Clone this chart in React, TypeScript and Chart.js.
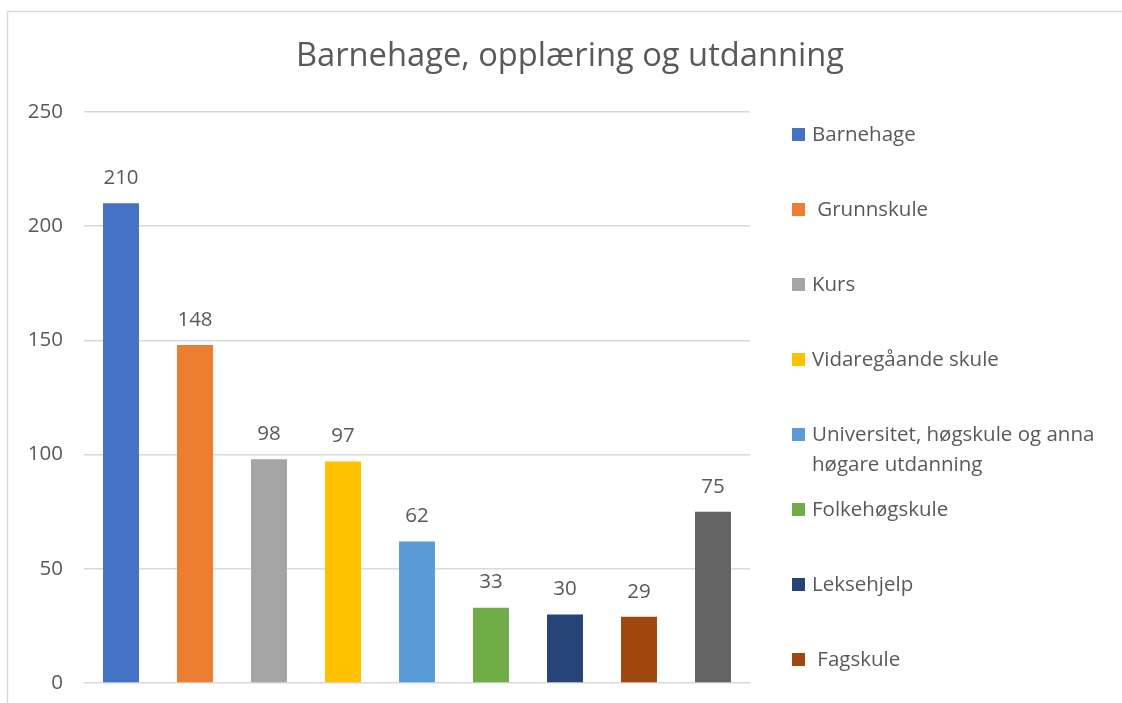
import React, { useEffect, useRef } from "react";
import { Chart, registerables } from "chart.js";

Chart.register(...registerables);

const title = "Barnehage, opplæring og utdanning";
const categories = [
  "Barnehage",
  " Grunnskule",
  "Kurs",
  "Vidaregåande skule",
  "Universitet, høgskule og anna\nhøgare utdanning",
  "Folkehøgskule",
  "Leksehjelp",
  " Fagskule",
  "Anna",
];
const values = [210, 148, 98, 97, 62, 33, 30, 29, 75];
const colors = [
  "#4472C4",
  "#ED7D31",
  "#A5A5A5",
  "#FFC000",
  "#5B9BD5",
  "#70AD47",
  "#264478",
  "#9E480E",
  "#636363",
];
const yTicks = [0, 50, 100, 150, 200, 250];

const FONT = "'Open Sans', sans-serif";
const TEXT = "#595959";

const framePlugin = {
  id: "frame",
  beforeDraw(chart: any) {
    const ctx = chart.ctx;
    ctx.save();
    ctx.fillStyle = "#ffffff";
    ctx.fillRect(0, 0, chart.width, chart.height);
    ctx.strokeStyle = "#D9D9D9";
    ctx.lineWidth = 1.5;
    ctx.beginPath();
    ctx.moveTo(7.5, chart.height);
    ctx.lineTo(7.5, 11.5);
    ctx.lineTo(chart.width, 11.5);
    ctx.stroke();
    ctx.restore();
  },
};

const decorPlugin = {
  id: "decor",
  afterDraw(chart: any) {
    const ctx = chart.ctx;
    const area = chart.chartArea;
    ctx.save();
    // title
    ctx.fillStyle = TEXT;
    ctx.font = `32.7px ${FONT}`;
    ctx.textAlign = "center";
    ctx.textBaseline = "middle";
    ctx.fillText(title, 570, 57);

    // data labels
    ctx.font = `20.5px ${FONT}`;
    const meta = chart.getDatasetMeta(0);
    meta.data.forEach((bar: any, i: number) => {
      ctx.fillText(String(values[i]), bar.x, bar.y - 25);
    });

    // legend
    ctx.textAlign = "left";
    const lx = area.right + 42;
    categories.forEach((label, i) => {
      const y = 135 + i * 75;
      ctx.fillStyle = colors[i];
      ctx.fillRect(lx, y - 7, 13, 13);
      ctx.fillStyle = TEXT;
      label.split("\n").forEach((line, j) => {
        ctx.fillText(line, lx + 20, y + j * 30);
      });
    });
    ctx.restore();
  },
};

export default function App() {
  const ref = useRef<HTMLCanvasElement>(null);
  useEffect(() => {
    if (!ref.current) return;
    const chart = new Chart(ref.current, {
      type: "bar",
      data: {
        labels: categories,
        datasets: [
          {
            data: values,
            backgroundColor: colors,
            borderWidth: 0,
            categoryPercentage: 1,
            barPercentage: 0.486,
          },
        ],
      },
      options: {
        animation: false,
        responsive: false,
        layout: { padding: { top: 112, bottom: 20, right: 372, left: 0 } },
        plugins: {
          legend: { display: false },
          title: { display: false },
          tooltip: { enabled: false },
        },
        scales: {
          x: { display: false },
          y: {
            min: 0,
            max: 250,
            afterFit: (s: any) => {
              s.width = 84;
            },
            afterBuildTicks: (s: any) => {
              s.ticks = yTicks.map((v) => ({ value: v }));
            },
            border: { display: false },
            grid: {
              color: "#D9D9D9",
              lineWidth: 1.5,
              drawTicks: true,
              tickLength: 21,
              tickColor: "rgba(0,0,0,0)",
            },
            ticks: {
              padding: 0,
              color: TEXT,
              font: { family: "'Open Sans', sans-serif", size: 20.5 },
            },
          },
        },
      },
      plugins: [framePlugin, decorPlugin],
    });
    return () => chart.destroy();
  }, []);
  return (
    <div style={{ position: "absolute", left: 0, top: 0, width: 1122, height: 703 }}>
      <canvas ref={ref} width={1122} height={703} style={{ display: "block" }} />
    </div>
  );
}
